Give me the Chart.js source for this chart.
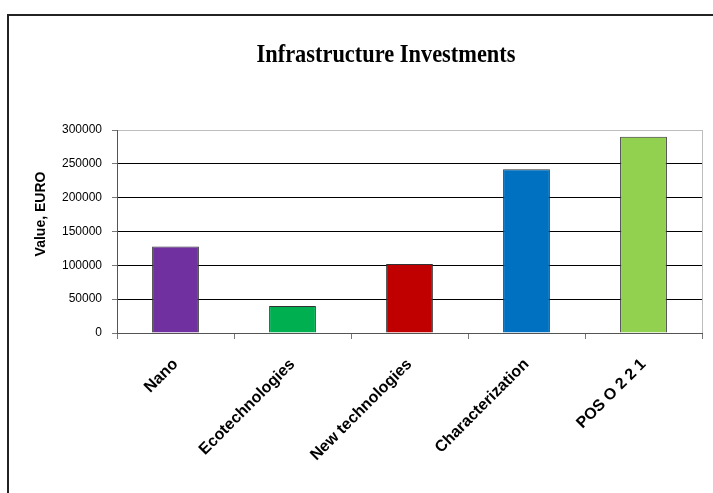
<!DOCTYPE html>
<html>
<head>
<meta charset="utf-8">
<title>Infrastructure Investments</title>
<script src="https://cdn.jsdelivr.net/npm/chart.js@4/dist/chart.umd.min.js"></script>
<style>
  html, body { margin: 0; padding: 0; background: #fff; overflow: hidden; }
  /* outer frame, runs off the right and bottom edges */
  #frame {
    position: absolute; left: 7px; top: 14px;
    width: 760px; height: 540px;
    border: 2px solid #222; box-sizing: border-box;
  }
  #chart { position: absolute; left: 0; top: 0; }
</style>
</head>
<body>
<div id="frame"></div>
<canvas id="chart" width="713" height="493"></canvas>
<script>
/* ── DATA ─────────────────────────────────────────────── */
const CHART_TITLE = 'Infrastructure Investments';
const AXIS_TITLE  = 'Value, EURO';
const categories  = ['Nano', 'Ecotechnologies', 'New technologies', 'Characterization', 'POS O 2 2 1'];
const values      = [128000, 40000, 102000, 242000, 290000];
const barColors   = ['#7030a0', '#00b050', '#c00000', '#0070c0', '#92d050'];
const yTicks      = [0, 50000, 100000, 150000, 200000, 250000, 300000];

/* ── TEXT + PLOT BORDER PLUGIN ────────────────────────── */
/* Draws the condensed serif title, the y-axis caption and the grey right edge */
const decorPlugin = {
  id: 'decor',
  afterDraw(chart) {
    const { ctx, chartArea } = chart;

    // right edge of the plot area
    ctx.save();
    ctx.strokeStyle = '#bdbdbd';
    ctx.lineWidth = 1;
    ctx.beginPath();
    ctx.moveTo(chartArea.right + 0.5, chartArea.top);
    ctx.lineTo(chartArea.right + 0.5, chartArea.bottom);
    ctx.stroke();
    ctx.restore();

    // main title, squeezed horizontally
    ctx.save();
    ctx.font = 'bold 26px "Liberation Serif", serif';
    ctx.fillStyle = '#000';
    ctx.textAlign = 'center';
    ctx.textBaseline = 'alphabetic';
    const w = ctx.measureText(CHART_TITLE).width;
    ctx.translate(386, 62);
    ctx.scale(259 / w, 1);
    ctx.fillText(CHART_TITLE, 0, 0);
    ctx.restore();

    // y-axis caption
    ctx.save();
    ctx.font = 'bold 14px "Liberation Sans", Arial, sans-serif';
    ctx.fillStyle = '#000';
    ctx.textAlign = 'center';
    ctx.textBaseline = 'middle';
    ctx.translate(41, 214);
    ctx.rotate(-Math.PI / 2);
    ctx.fillText(AXIS_TITLE, 0, 0);
    ctx.restore();
  },
};

/* ── CHART ────────────────────────────────────────────── */
new Chart(document.getElementById('chart').getContext('2d'), {
  type: 'bar',
  data: {
    labels: categories,
    datasets: [{
      data: values,
      backgroundColor: barColors,
      borderColor: '#333',
      borderWidth: 1,
      barPercentage: 0.4,
      categoryPercentage: 1.0,
    }],
  },
  options: {
    responsive: false,
    animation: false,
    devicePixelRatio: 1,
    layout: { padding: { top: 130, right: 11, left: 0, bottom: 0 } },
    plugins: {
      legend: { display: false },
      title: { display: false },
      tooltip: { enabled: false },
    },
    scales: {
      x: {
        afterFit: (scale) => { scale.height = 160; },
        grid: {
          display: true,
          drawOnChartArea: false,
          offset: true,
          tickLength: 6,
          color: '#777',
        },
        border: { color: '#555', width: 1 },
        ticks: {
          minRotation: 45,
          maxRotation: 45,
          padding: 16,
          color: '#000',
          font: { family: '"Liberation Sans", Arial, sans-serif', size: 16, weight: 'bold' },
        },
      },
      y: {
        min: 0,
        max: 300000,
        afterFit: (scale) => { scale.width = 117; },
        afterBuildTicks: (scale) => { scale.ticks = yTicks.map(v => ({ value: v })); },
        grid: {
          color: (c) => (c.tick && c.tick.value === 300000 ? '#bdbdbd' : '#000'),
          tickColor: '#777',
          tickLength: 5,
        },
        border: { color: '#555', width: 1 },
        ticks: {
          padding: 10,
          color: '#000',
          font: { family: '"Liberation Sans", Arial, sans-serif', size: 12 },
          callback: (v) => String(v),
        },
      },
    },
  },
  plugins: [decorPlugin],
});
</script>
</body>
</html>
